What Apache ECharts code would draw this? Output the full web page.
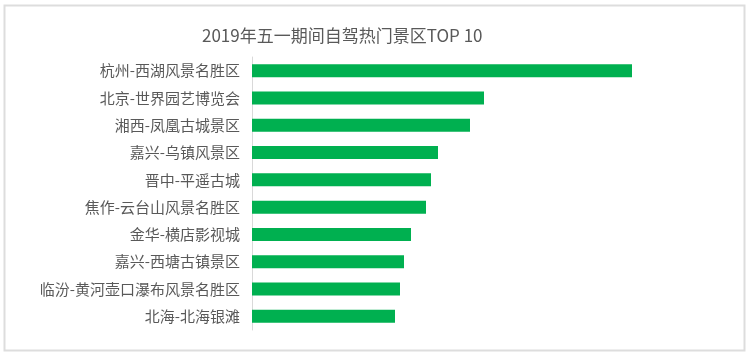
<!DOCTYPE html>
<html>
<head>
<meta charset="utf-8">
<script src="https://cdn.jsdelivr.net/npm/echarts@6/dist/echarts.min.js"></script>
<style>html,body{margin:0;padding:0;background:#fff}#c{width:750px;height:356px}</style>
</head>
<body>
<div id="c"></div>
<script>
const titleText = '2019年五一期间自驾热门景区TOP 10';
const categories = ['杭州-西湖风景名胜区','北京-世界园艺博览会','湘西-凤凰古城景区','嘉兴-乌镇风景区','晋中-平遥古城','焦作-云台山风景名胜区','金华-横店影视城','嘉兴-西塘古镇景区','临汾-黄河壶口瀑布风景名胜区','北海-北海银滩'];
const values = [380, 232, 218, 186, 179, 174, 159, 152, 148, 143];

const chart = echarts.init(document.getElementById('c'));
chart.setOption({
  backgroundColor: '#fff',
  animation: false,
  textStyle: {fontFamily: '"Noto Sans CJK SC", sans-serif'},
  title: {
    text: titleText,
    left: 197, top: 22,
    textStyle: {fontSize: 17, fontWeight: 'normal', color: '#595959', fontFamily: '"Noto Sans CJK SC", sans-serif'}
  },
  graphic: [{
    type: 'rect', shape: {x: 4.5, y: 5.5, width: 740, height: 345},
    style: {fill: 'none', stroke: '#dddddd', lineWidth: 2}, silent: true
  }],
  grid: {left: 252, right: 98, top: 57, bottom: 26, containLabel: false},
  xAxis: {type: 'value', min: 0, max: 400, show: false},
  yAxis: {
    type: 'category', data: categories, inverse: true,
    axisLine: {show: true, lineStyle: {color: '#d9d9d9', width: 1}},
    axisTick: {show: false},
    axisLabel: {margin: 12, fontSize: 15, color: '#595959', fontFamily: '"Noto Sans CJK SC", sans-serif'}
  },
  series: [{
    type: 'bar', data: values, barWidth: 13,
    itemStyle: {color: '#00B050'}
  }]
});
</script>
</body>
</html>
